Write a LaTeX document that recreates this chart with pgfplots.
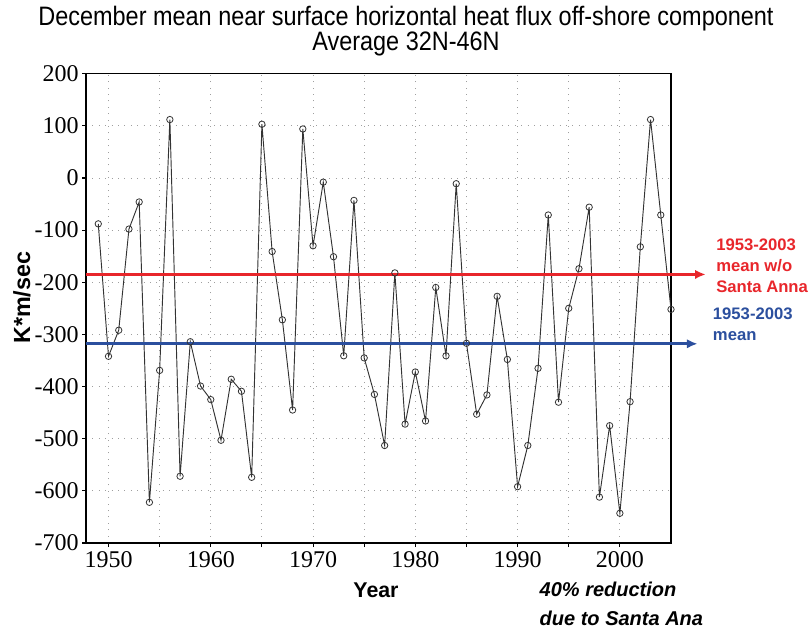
\documentclass[border=0pt]{standalone}
\usepackage{fontspec}
\setmainfont{Liberation Sans}
\newfontfamily\serifnum{Liberation Serif}
\newfontfamily\titlefont[FakeStretch=0.88]{Liberation Sans}
\usepackage{pgfplots}
\pgfplotsset{compat=1.18}
\usetikzlibrary{arrows.meta}
\definecolor{meanred}{HTML}{E8262B}
\definecolor{meanblue}{HTML}{2B4F9E}

\pgfplotstableread{
year flux
1949 -88
1950 -342
1951 -292
1952 -98
1953 -46
1954 -622
1955 -369
1956 112
1957 -572
1958 -314
1959 -399
1960 -425
1961 -503
1962 -386
1963 -409
1964 -574
1965 103
1966 -141
1967 -272
1968 -445
1969 94
1970 -130
1971 -8
1972 -151
1973 -341
1974 -43
1975 -345
1976 -415
1977 -513
1978 -182
1979 -472
1980 -372
1981 -466
1982 -210
1983 -341
1984 -11
1985 -317
1986 -453
1987 -416
1988 -227
1989 -348
1990 -592
1991 -513
1992 -365
1993 -71
1994 -430
1995 -250
1996 -174
1997 -56
1998 -612
1999 -475
2000 -643
2001 -429
2002 -132
2003 112
2004 -71
2005 -252
}\fluxdata

\begin{document}
\begin{tikzpicture}
\path[use as bounding box] (-64.5pt,-63.75pt) rectangle (544.5pt,407.25pt);
\begin{axis}[
    at={(0pt,0pt)}, anchor=south west,
    scale only axis, width=438.75pt, height=352pt,
    xmin=1947.8, xmax=2005, ymin=-700, ymax=200,
    xtick={1950,1960,...,2000},
    minor xtick={1955,1965,...,1995},
    ytick={-700,-600,...,200},
    grid=both,
    major grid style={gray!75, line width=0.7pt, dash pattern=on 0.8pt off 4pt},
    minor grid style={gray!75, line width=0.7pt, dash pattern=on 0.8pt off 4pt},
    tick align=outside, tick pos=left,
    major tick length=3pt, minor tick length=3pt,
    tick style={black, line width=0.8pt},
    axis line style={black, line width=1pt},
    ticklabel style={font=\serifnum\fontsize{18}{20}\selectfont},
    yticklabel style={xshift=1pt},
    /pgf/number format/assume math mode=true,
    /pgf/number format/1000 sep={},
    clip=false,
]
\addplot[black!80, line width=0.7pt, mark=o, mark size=2.4pt,
    mark options={fill=white, line width=0.6pt}] table[x=year, y=flux] {\fluxdata};
\addplot[meanred, line width=2pt, -{Latex[length=8pt,width=7pt]}]
    coordinates {(1947.8,-185) (2008.4,-185)};
\addplot[meanblue, line width=2pt, -{Latex[length=8pt,width=7pt]}]
    coordinates {(1947.8,-318) (2007.6,-318)};
\end{axis}

\node[font=\titlefont\fontsize{20}{17.5}\selectfont, align=center]
    at (240pt,384pt) {December mean near surface horizontal heat flux off-shore component\\Average 32N-46N};
\node[font=\bfseries\fontsize{17.5}{20}\selectfont, rotate=90] at (-48pt,184pt) {K*m/sec};
\node[font=\bfseries\fontsize{16}{18}\selectfont] at (217.5pt,-35.25pt) {Year};
\node[font=\bfseries\itshape\fontsize{15}{21.75}\selectfont, align=left, anchor=west]
    at (336.75pt,-45.5pt) {40\% reduction\\due to Santa Ana};
\node[font=\bfseries\fontsize{12.5}{15.75}\selectfont, text=meanred, align=left, anchor=west, inner sep=0pt]
    at (472.5pt,207.75pt) {1953-2003\\mean w/o\\Santa Anna};
\node[font=\bfseries\fontsize{12.5}{15.75}\selectfont, text=meanblue, align=left, anchor=west, inner sep=0pt]
    at (470pt,163.9pt) {1953-2003\\mean};
\end{tikzpicture}
\end{document}
